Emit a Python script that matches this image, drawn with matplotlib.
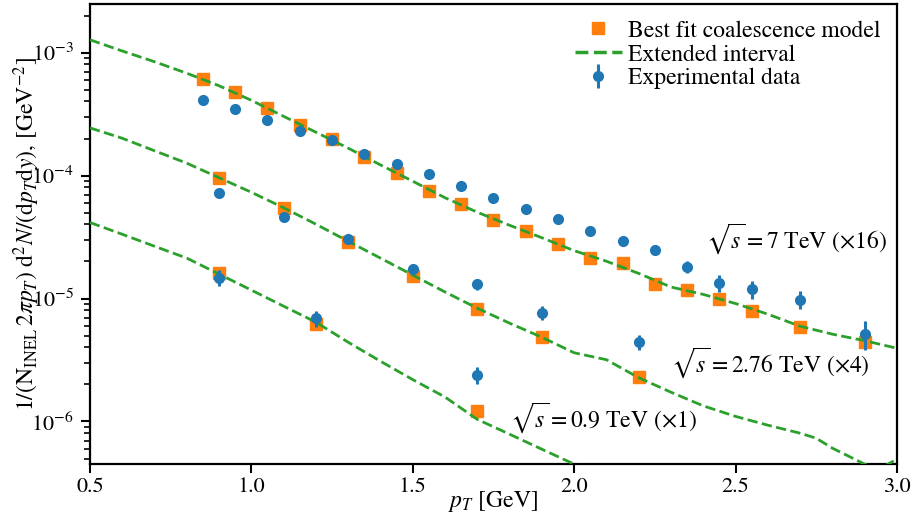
import matplotlib
matplotlib.use("Agg")
import matplotlib.pyplot as plt
from matplotlib.lines import Line2D
import numpy as np

plt.rcParams["font.family"] = ["STIXGeneral", "DejaVu Serif"]
plt.rcParams["mathtext.fontset"] = "stix"

# --- best fit coalescence model (orange squares) ---
pt_7 = [0.85, 0.95, 1.05, 1.15, 1.25, 1.35, 1.45, 1.55, 1.65, 1.75,
        1.85, 1.95, 2.05, 2.15, 2.25, 2.35, 2.45, 2.55, 2.7, 2.9]
fit_7 = [6.07e-4, 4.75e-4, 3.55e-4, 2.56e-4, 1.98e-4, 1.42e-4, 1.05e-4, 7.49e-5, 5.84e-5, 4.36e-5,
         3.53e-5, 2.76e-5, 2.14e-5, 1.93e-5, 1.30e-5, 1.18e-5, 9.92e-6, 7.93e-6, 5.88e-6, 4.39e-6]
pt_276 = [0.9, 1.1, 1.3, 1.5, 1.7, 1.9, 2.2]
fit_276 = [9.60e-5, 5.45e-5, 2.87e-5, 1.52e-5, 8.18e-6, 4.82e-6, 2.28e-6]
pt_09 = [0.9, 1.2, 1.7]
fit_09 = [1.60e-5, 6.26e-6, 1.22e-6]

# --- experimental data (blue) ---
data_7 = [4.15e-4, 3.48e-4, 2.85e-4, 2.31e-4, 1.94e-4, 1.51e-4, 1.23e-4, 1.02e-4, 8.18e-5, 6.57e-5,
          5.39e-5, 4.47e-5, 3.53e-5, 2.91e-5, 2.47e-5, 1.81e-5, 1.34e-5, 1.19e-5, 9.81e-6, 5.19e-6]
relerr_7 = [0.04, 0.04, 0.04, 0.04, 0.04, 0.04, 0.04, 0.05, 0.05, 0.05,
            0.05, 0.05, 0.06, 0.07, 0.09, 0.11, 0.15, 0.17, 0.17, 0.27]
data_276 = [7.18e-5, 4.58e-5, 3.05e-5, 1.75e-5, 1.30e-5, 7.64e-6, 4.47e-6]
relerr_276 = [0.05, 0.05, 0.06, 0.07, 0.10, 0.13, 0.14]
data_09 = [1.48e-5, 6.92e-6, 2.39e-6]
relerr_09 = [0.15, 0.15, 0.16]

# --- extended interval curves (green dashed) ---
ext_pt = [0.5, 0.6, 0.7, 0.8, 0.9, 1.0, 1.1, 1.2, 1.3, 1.4, 1.5, 1.6, 1.7,
          1.8, 1.9, 2.0, 2.1, 2.2, 2.3, 2.4, 2.5, 2.6, 2.7, 2.8, 2.9, 3.0]
ext_7 = [1.27e-3, 1.03e-3, 8.42e-4, 6.79e-4, 5.37e-4, 4.09e-4, 3.03e-4, 2.25e-4, 1.67e-4, 1.22e-4,
         8.99e-5, 6.60e-5, 5.03e-5, 3.94e-5, 3.12e-5, 2.45e-5, 2.01e-5, 1.60e-5, 1.24e-5, 1.08e-5,
         9.10e-6, 7.46e-6, 5.95e-6, 5.13e-6, 4.54e-6, 3.94e-6]
ext_pt_276 = [0.5, 0.6, 0.7, 0.8, 0.9, 1.0, 1.1, 1.2, 1.3, 1.4, 1.5, 1.6, 1.7, 1.8,
              1.9, 2.0, 2.1, 2.2, 2.3, 2.4, 2.5, 2.6, 2.7, 2.75, 2.8, 2.9, 2.95, 3.0]
ext_276 = [2.44e-4, 2.01e-4, 1.59e-4, 1.26e-4, 9.60e-5, 7.31e-5, 5.47e-5, 4.02e-5, 2.92e-5, 2.13e-5,
           1.55e-5, 1.13e-5, 8.34e-6, 6.30e-6, 4.84e-6, 3.62e-6, 3.18e-6, 2.27e-6, 1.73e-6, 1.34e-6,
           1.10e-6, 9.33e-7, 8.03e-7, 7.31e-7, 6.07e-7, 4.50e-7, 4.17e-7, 4.94e-7]
ext_pt_09 = [0.5, 0.6, 0.7, 0.8, 0.9, 1.0, 1.1, 1.2, 1.3, 1.4, 1.5, 1.6, 1.7, 1.8, 1.9, 2.0, 2.1]
ext_09 = [4.15e-5, 3.33e-5, 2.66e-5, 2.13e-5, 1.58e-5, 1.17e-5, 8.66e-6, 6.42e-6, 4.41e-6, 3.09e-6,
          2.19e-6, 1.58e-6, 1.04e-6, 7.88e-7, 5.95e-7, 4.50e-7, 3.40e-7]

blue, orange, green = "#1f77b4", "#ff7f0e", "#2ca02c"

fig = plt.figure(figsize=(9.17, 5.18), dpi=100)
ax = fig.add_axes([0.0981, 0.104, 0.880, 0.889])

for x, y in [(pt_7, fit_7), (pt_276, fit_276), (pt_09, fit_09)]:
    ax.plot(x, y, "s", color=orange, markersize=8, zorder=2)
for x, y in [(ext_pt, ext_7), (ext_pt_276, ext_276), (ext_pt_09, ext_09)]:
    ax.plot(x, y, "--", color=green, lw=2, zorder=3)
for x, y, r in [(pt_7, data_7, relerr_7), (pt_276, data_276, relerr_276), (pt_09, data_09, relerr_09)]:
    y = np.array(y)
    ax.errorbar(x, y, yerr=y * np.array(r), fmt="o", color=blue, markersize=7,
                elinewidth=2.2, capsize=0, zorder=4)

ax.set_yscale("log")
ax.set_xlim(0.5, 3.0)
ax.set_ylim(4.5e-7, 2.5e-3)
ax.set_xticks([0.5, 1.0, 1.5, 2.0, 2.5, 3.0])

for s in ax.spines.values():
    s.set_linewidth(1.6)
ax.tick_params(which="major", length=6.5, width=1.5, labelsize=16, pad=3)
ax.tick_params(axis="y", which="major", pad=5)
ax.tick_params(which="minor", length=4, width=1.2)

ax.set_xlabel(r"$p_T$ [GeV]", fontsize=17)
ax.set_ylabel(r"$1/(\mathrm{N}_{\mathrm{INEL}}\,2\pi p_T)\ \mathrm{d}^2N/(\mathrm{d}p_T\mathrm{d}y)$, [GeV$^{-2}$]",
              fontsize=17)
ax.xaxis.set_label_coords(0.5, -0.054)
ax.yaxis.set_label_coords(-0.059, 0.5)

ax.text(2.41, 3.1e-5, r"$\sqrt{s}=7$ TeV ($\times$16)", fontsize=17, va="center", ha="left")
ax.text(2.30, 3.0e-6, r"$\sqrt{s}=2.76$ TeV ($\times$4)", fontsize=17, va="center", ha="left")
ax.text(1.80, 1.08e-6, r"$\sqrt{s}=0.9$ TeV ($\times$1)", fontsize=17, va="center", ha="left")

handles = [
    Line2D([], [], marker="s", ls="none", color=orange, markersize=8),
    Line2D([], [], ls="--", color=green, lw=2.5),
    ax.containers[0],
]
labels = ["Best fit coalescence model", "Extended interval", "Experimental data"]
ax.legend(handles, labels, loc="upper right", frameon=False, fontsize=17,
          handletextpad=0.25, labelspacing=0.1, borderaxespad=0.3)

fig.savefig("out.png", dpi=100)
